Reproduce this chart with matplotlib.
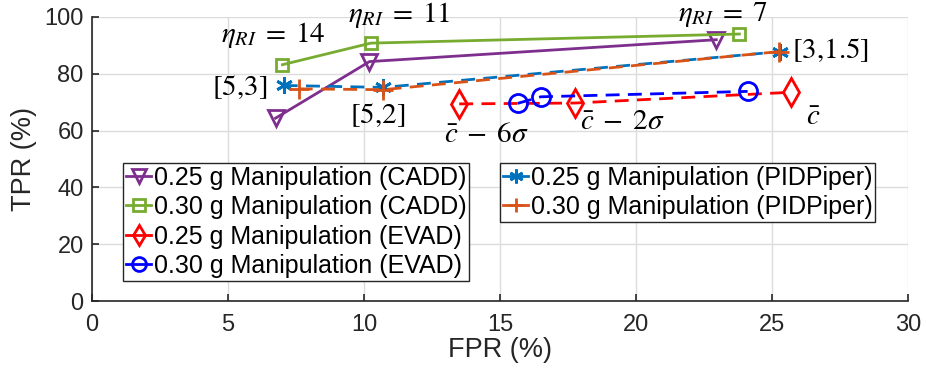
import matplotlib
matplotlib.use("Agg")
import matplotlib.pyplot as plt
from matplotlib.lines import Line2D

plt.rcParams['font.family'] = ['Liberation Sans', 'DejaVu Sans']
plt.rcParams['mathtext.fontset'] = 'stix'

# Data (FPR %, TPR %)
cadd25_fpr = [6.75, 10.2, 22.95]
cadd25_tpr = [64.4, 84.3, 92.0]
cadd30_fpr = [7.0, 10.25, 23.8]
cadd30_tpr = [83.2, 90.8, 94.0]
evad25_fpr = [13.5, 17.75, 25.7]
evad25_tpr = [69.4, 69.7, 73.5]
evad30_fpr = [15.65, 16.5, 24.1]
evad30_tpr = [69.6, 71.9, 73.8]
pid25_fpr = [7.05, 10.7, 25.3]
pid25_tpr = [75.9, 75.2, 87.8]
pid30_fpr = [7.6, 10.7, 25.25]
pid30_tpr = [74.7, 74.4, 87.8]

labels = ["0.25 g Manipulation (CADD)", "0.30 g Manipulation (CADD)",
          "0.25 g Manipulation (EVAD)", "0.30 g Manipulation (EVAD)",
          "0.25 g Manipulation (PIDPiper)", "0.30 g Manipulation (PIDPiper)"]

xticks = [0, 5, 10, 15, 20, 25, 30]
yticks = [0, 20, 40, 60, 80, 100]

fig = plt.figure(figsize=(9.26, 3.75), dpi=100)
ax = fig.add_axes([0.0994, 0.1973, 0.8812, 0.7574])

lw = 2.0
h1, = ax.plot(cadd25_fpr, cadd25_tpr, '-', color='#7E2F8E', lw=lw, marker='v',
              ms=11, mfc='none', mew=2, label=labels[0])
h2, = ax.plot(cadd30_fpr, cadd30_tpr, '-', color='#77AC30', lw=lw, marker='s',
              ms=8, mfc='none', mew=2, label=labels[1])
h5, = ax.plot(pid25_fpr, pid25_tpr, color='#0072BD', lw=lw, marker=(6, 2, 0),
              ms=12, mew=2, label=labels[4], dashes=(5, 3))
h6, = ax.plot(pid30_fpr, pid30_tpr, color='#D95319', lw=lw, marker='+',
              ms=14, mew=2, label=labels[5], dashes=(5, 3))
h3, = ax.plot(evad25_fpr, evad25_tpr, color='#FF0000', lw=lw, marker='d',
              ms=14, mfc='none', mew=2, label=labels[2], dashes=(5, 3))
h4, = ax.plot(evad30_fpr, evad30_tpr, color='#0000FF', lw=lw, marker='o',
              ms=13, mfc='none', mew=2, label=labels[3], dashes=(5, 3))

ax.set_xlim(0, 30)
ax.set_ylim(0, 100)
ax.set_xticks(xticks)
ax.set_yticks(yticks)
ax.grid(True, color='#DCDCDC', lw=1)
ax.set_axisbelow(True)
for s in ['top', 'right']:
    ax.spines[s].set_visible(False)
for s in ['left', 'bottom']:
    ax.spines[s].set_color('#262626')
    ax.spines[s].set_linewidth(1.2)
ax.tick_params(axis='both', direction='in', length=5, width=1.2, color='#262626',
               labelsize=17, labelcolor='#262626')
ax.tick_params(axis='x', pad=9)
ax.tick_params(axis='y', pad=6)
ax.set_xlabel("FPR (%)", fontsize=19.5, color='#262626', labelpad=1)
ax.set_ylabel("TPR (%)", fontsize=19.5, color='#262626', labelpad=5)

def hnd(h):
    m = h.get_marker()
    filled = m in ['+', (6, 2, 0)]
    return Line2D([0], [0], color=h.get_color(), lw=lw, marker=m,
                  ms=min(h.get_markersize(), 10),
                  mfc=h.get_color() if filled else 'none', mew=2)

common = dict(loc='upper left', fontsize=18, handlelength=1.0, handletextpad=0.1,
              borderpad=0.12, labelspacing=0.22, fancybox=False, framealpha=1,
              edgecolor='#262626', borderaxespad=0)
leg1 = ax.legend([hnd(h1), hnd(h2), hnd(h3), hnd(h4)], labels[:4],
                 bbox_to_anchor=(0.038, 0.487), **common)
leg1.get_frame().set_linewidth(1.0)
ax.add_artist(leg1)
leg2 = ax.legend([hnd(h5), hnd(h6)], labels[4:],
                 bbox_to_anchor=(0.5, 0.487), **common)
leg2.get_frame().set_linewidth(1.0)

tf = dict(fontsize=21, color='black', ha='center', va='center')
ax.text(6.65, 93.7, r'$\eta_{RI}\;=\;14$', **tf)
ax.text(11.3, 100.7, r'$\eta_{RI}\;=\;11$', **tf)
ax.text(23.2, 100.7, r'$\eta_{RI}\;=\;7$', **tf)
ax.text(5.44, 75.2, r'$[5{,}3]$', **tf)
ax.text(10.5, 65.6, r'$[5{,}2]$', **tf)
ax.text(27.15, 88.2, r'$[3{,}1.5]$', **tf)
ax.text(14.5, 58.8, r'$\bar{c}\;-\;6\sigma$', **tf)
ax.text(19.5, 63.3, r'$\bar{c}\;-\;2\sigma$', **tf)
ax.text(26.5, 64.8, r'$\bar{c}$', **tf)

fig.savefig("out.png", dpi=100)
